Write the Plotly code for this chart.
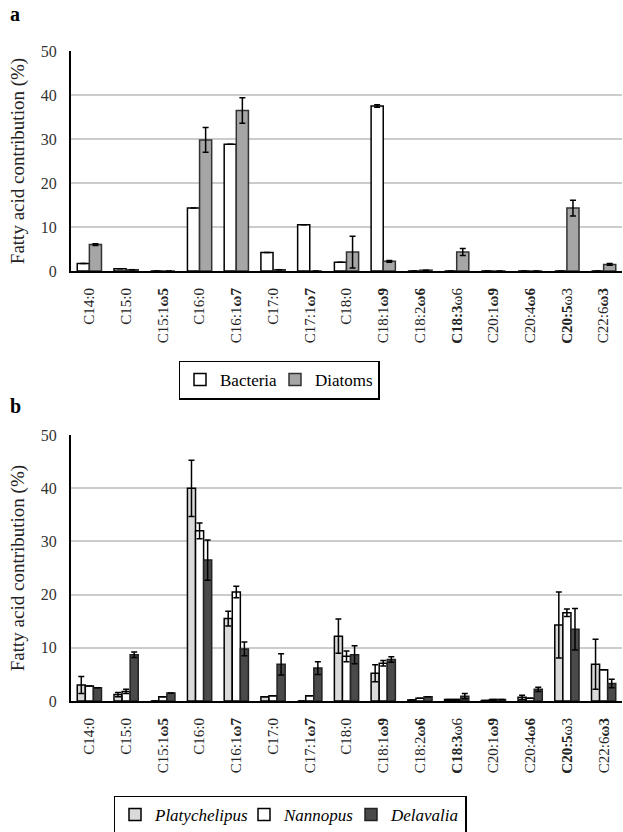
import plotly.graph_objects as go

categories = ["C14:0", "C15:0", "C15:1ω5", "C16:0", "C16:1ω7", "C17:0", "C17:1ω7", "C18:0",
              "C18:1ω9", "C18:2ω6", "C18:3ω6", "C20:1ω9", "C20:4ω6", "C20:5ω3", "C22:6ω3"]
tick_labels = ["C14:0", "C15:0", "C15:1<b>ω5</b>", "C16:0", "C16:1<b>ω7</b>", "C17:0", "C17:1<b>ω7</b>", "C18:0",
               "C18:1<b>ω9</b>", "C18:2<b>ω6</b>", "<b>C18:3</b>ω6", "C20:1<b>ω9</b>", "C20:4<b>ω6</b>",
               "<b>C20:5</b>ω3", "C22:6<b>ω3</b>"]

# Panel a
bacteria = [1.7, 0.5, 0, 14.3, 28.8, 4.2, 10.5, 2.0, 37.5, 0, 0, 0, 0, 0, 0]
bacteria_err = [0, 0, 0, 0, 0, 0, 0, 0, 0.3, 0, 0, 0, 0, 0, 0]
diatoms = [6.0, 0.3, 0, 29.8, 36.5, 0.3, 0, 4.3, 2.2, 0.2, 4.3, 0, 0, 14.3, 1.5]
diatoms_err = [0.2, 0, 0, 2.8, 2.9, 0, 0, 3.6, 0.2, 0, 0.8, 0, 0, 1.8, 0.2]

# Panel b
platychelipus = [3.0, 1.2, 0, 40.0, 15.5, 0.8, 0, 12.2, 5.2, 0.2, 0.3, 0.1, 0.7, 14.3, 6.9]
platychelipus_err = [1.6, 0.4, 0, 5.3, 1.4, 0, 0, 3.2, 1.6, 0, 0, 0, 0.4, 6.2, 4.7]
nannopus = [2.8, 1.8, 0.8, 32.0, 20.5, 1.0, 1.0, 8.4, 7.1, 0.5, 0.3, 0.3, 0.5, 16.6, 5.9]
nannopus_err = [0, 0.4, 0, 1.5, 1.1, 0, 0, 1.0, 0.5, 0, 0, 0, 0, 0.7, 0]
delavalia = [2.5, 8.7, 1.5, 26.5, 9.8, 6.9, 6.2, 8.7, 7.8, 0.8, 0.9, 0.3, 2.2, 13.5, 3.3]
delavalia_err = [0, 0.5, 0, 3.8, 1.3, 2.0, 1.2, 1.7, 0.5, 0, 0.5, 0, 0.4, 3.9, 0.8]

serif = "Liberation Serif"
err_style = dict(type="data", visible=True, color="black", thickness=1.5, width=3)
line_style = dict(color="black", width=1.5)

fig = go.Figure()

fig.add_trace(go.Bar(x=categories, y=bacteria, name="Bacteria", xaxis="x", yaxis="y",
                     marker=dict(color="white", line=line_style), legendwidth=50,
                     error_y=dict(array=bacteria_err, **err_style), legend="legend"))
fig.add_trace(go.Bar(x=categories, y=diatoms, name="Diatoms", xaxis="x", yaxis="y",
                     marker=dict(color="#a6a6a6", line=dict(color="#333333", width=1.5)),
                     error_y=dict(array=diatoms_err, **err_style), legend="legend"))

fig.add_trace(go.Bar(x=categories, y=platychelipus, name="<i>Platychelipus</i>", xaxis="x2", yaxis="y2",
                     marker=dict(color="#dadada", line=line_style), legendwidth=84,
                     error_y=dict(array=platychelipus_err, **err_style), legend="legend2"))
fig.add_trace(go.Bar(x=categories, y=nannopus, name="<i>Nannopus</i>", xaxis="x2", yaxis="y2",
                     marker=dict(color="white", line=line_style), legendwidth=62,
                     error_y=dict(array=nannopus_err, **err_style), legend="legend2"))
fig.add_trace(go.Bar(x=categories, y=delavalia, name="<i>Delavalia</i>", xaxis="x2", yaxis="y2",
                     marker=dict(color="#4a4a4a", line=dict(color="#222222", width=1.5)),
                     error_y=dict(array=delavalia_err, **err_style), legend="legend2"))

xax = dict(tickvals=categories, ticktext=tick_labels, tickangle=-90, showline=True, linecolor="black",
           linewidth=2, showgrid=False, ticks="", automargin=False, ticklabelstandoff=9,
           tickfont=dict(family=serif, size=15, color="#222"))
yax = dict(range=[0, 50], dtick=10, showline=True, linecolor="black", linewidth=2, showgrid=True,
           gridcolor="#cccccc", gridwidth=1.5, ticks="", zeroline=False, automargin=False,
           ticklabelstandoff=9,
           tickfont=dict(family=serif, size=16, color="#333"),
           title=dict(text="Fatty acid contribution (%)", font=dict(family=serif, size=19, color="#222"),
                      standoff=11))

leg_common = dict(orientation="h", xanchor="center", yanchor="middle", xref="container", yref="container",
                  bordercolor="black", borderwidth=1.5, font=dict(family=serif, size=17, color="black"),
                  itemwidth=30, traceorder="normal", tracegroupgap=0)

fig.update_layout(
    width=623, height=832,
    font=dict(family=serif),
    margin=dict(l=71, r=1, t=51, b=131, autoexpand=False),
    paper_bgcolor="white", plot_bgcolor="white",
    barmode="group", bargap=0.34, bargroupgap=0.0,
    xaxis=dict(domain=[0, 1], anchor="y", **xax),
    yaxis=dict(domain=[0.6615, 1.0], anchor="x", **yax),
    xaxis2=dict(domain=[0, 1], anchor="y2", **xax),
    yaxis2=dict(domain=[0, 0.409], anchor="x2", **yax),
    legend=dict(x=279 / 623, y=1 - 380 / 832, **leg_common),
    legend2=dict(x=290 / 623, y=1 - 815 / 832, **leg_common),
)

plot_w = 623 - 71 - 1
plot_h = 832 - 51 - 131
fig.update_layout(annotations=[
    dict(text="<b>a</b>", x=(15 - 71) / plot_w, y=(701 - 14) / plot_h, xref="paper", yref="paper",
         showarrow=False, font=dict(family=serif, size=20, color="black"), xanchor="center", yanchor="middle"),
    dict(text="<b>b</b>", x=(15 - 71) / plot_w, y=(701 - 406) / plot_h, xref="paper", yref="paper",
         showarrow=False, font=dict(family=serif, size=20, color="black"), xanchor="center", yanchor="middle"),
])

fig.write_html("out.html", config={"displayModeBar": False},
               post_script="document.body.style.margin='0px';document.body.style.overflow='hidden';")
